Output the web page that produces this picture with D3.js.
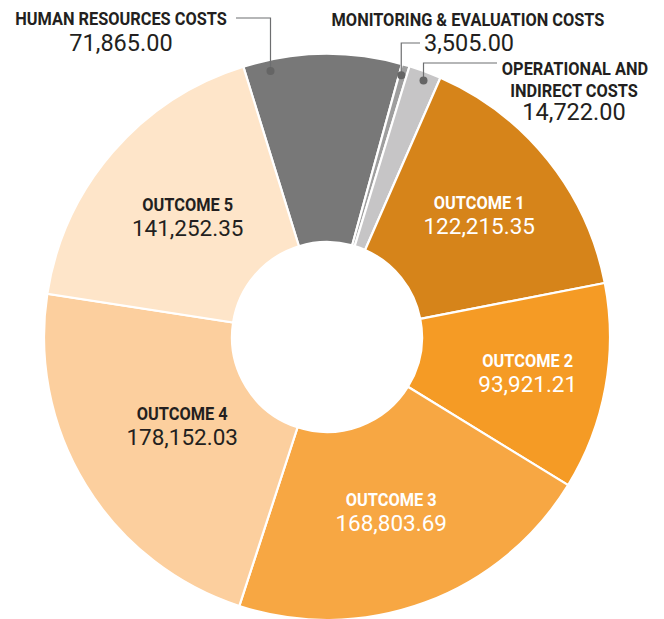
<!DOCTYPE html>
<html>
<head>
<meta charset="utf-8">
<script src="https://cdn.jsdelivr.net/npm/d3@7"></script>
<style>
  html, body { margin: 0; padding: 0; background: #ffffff; }
  svg { display: block; }
  .ttl { font-family: "Roboto", "Liberation Sans", sans-serif; font-weight: 700; }
  .val { font-family: "Roboto", "Liberation Sans", sans-serif; font-weight: 400; }
</style>
</head>
<body>
<svg id="chart" width="664" height="619"></svg>
<script>
// Budget allocation, clockwise from the Human Resources slice
const categories = [
  "HUMAN RESOURCES COSTS",
  "MONITORING & EVALUATION COSTS",
  "OPERATIONAL AND INDIRECT COSTS",
  "OUTCOME 1",
  "OUTCOME 2",
  "OUTCOME 3",
  "OUTCOME 4",
  "OUTCOME 5"
];
const amounts = [71865.00, 3505.00, 14722.00, 122215.35, 93921.21, 168803.69, 178152.03, 141252.35];
const colors = ["#787878", "#9e9e9e", "#c6c5c6", "#d6841a", "#f59b25", "#f7a743", "#fccf9e", "#fee5c9"];

const width = 664, height = 619;
const cx = 327, cy = 337;
const outerR = 283, innerR = 95;
const startDeg = -17.2;

// condensed look: horizontal squeeze applied to each text run
const SQUEEZE_TITLE = 0.86, SQUEEZE_VAL_IN = 1.0, SQUEEZE_VAL_OUT = 0.96;
const TITLE_SIZE = 19;

const svg = d3.select("#chart");
const g = svg.append("g").attr("transform", `translate(${cx},${cy})`);

const fmt = d3.format(",.2f");
const rad = d => d * Math.PI / 180;

function squeeze(sel, k) {
  sel.each(function () {
    const w = this.getComputedTextLength();
    d3.select(this).attr("textLength", w * k).attr("lengthAdjust", "spacingAndGlyphs");
  });
  return sel;
}

const pie = d3.pie()
  .value(d => d.value)
  .sort(null)
  .startAngle(rad(startDeg))
  .endAngle(rad(startDeg + 360));

const rows = categories.map((c, i) => ({ name: c, value: amounts[i], color: colors[i], idx: i }));
const arcs = pie(rows);

const arc = d3.arc().innerRadius(innerR).outerRadius(outerR);

g.selectAll("path.slice")
  .data(arcs)
  .join("path")
  .attr("class", "slice")
  .attr("d", arc)
  .attr("fill", d => d.data.color)
  .attr("stroke", "#ffffff")
  .attr("stroke-width", 2.2)
  .attr("stroke-linejoin", "miter");

// Labels inside the outcome slices
const insideRadius = { 3: 195, 4: 204, 5: 186, 6: 170, 7: 184 };
const insideText = { 3: "#ffffff", 4: "#ffffff", 5: "#ffffff", 6: "#231f20", 7: "#231f20" };

const inner = g.selectAll("g.inlab")
  .data(arcs.filter(d => d.data.idx >= 3))
  .join("g")
  .attr("class", "inlab")
  .attr("transform", d => {
    const r = insideRadius[d.data.idx];
    const c = d3.arc().innerRadius(r).outerRadius(r).centroid(d);
    return `translate(${c[0]},${c[1]})`;
  });

squeeze(inner.append("text")
  .attr("class", "ttl")
  .attr("text-anchor", "middle")
  .attr("y", -6)
  .attr("font-size", TITLE_SIZE)
  .attr("fill", d => insideText[d.data.idx])
  .text(d => d.data.name), SQUEEZE_TITLE);

squeeze(inner.append("text")
  .attr("class", "val")
  .attr("text-anchor", "middle")
  .attr("y", 19)
  .attr("font-size", 22.5)
  .attr("fill", d => insideText[d.data.idx])
  .text(d => fmt(d.data.value)), SQUEEZE_VAL_IN);

// Callouts for the three small cost slices
const dotAt = (d, frac, r) => {
  const a = d.startAngle + frac * (d.endAngle - d.startAngle);
  return [cx + r * Math.sin(a), cy - r * Math.cos(a)];
};

const ink = "#231f20", leader = "#6d6e70", dotColor = "#656565";

function callout(d, frac, r, pathStart, lines, valuePos) {
  const p = dotAt(d, frac, r);
  svg.append("path")
    .attr("d", `M${pathStart[0]},${pathStart[1]}H${p[0]}V${p[1]}`)
    .attr("fill", "none").attr("stroke", leader).attr("stroke-width", 1.2);
  svg.append("circle").attr("cx", p[0]).attr("cy", p[1]).attr("r", 4).attr("fill", dotColor);
  lines.forEach(l => {
    squeeze(svg.append("text").attr("class", "ttl").attr("x", l.x).attr("y", l.y)
      .attr("text-anchor", "middle").attr("font-size", TITLE_SIZE).attr("fill", ink).text(l.t), SQUEEZE_TITLE);
  });
  squeeze(svg.append("text").attr("class", "val").attr("x", valuePos[0]).attr("y", valuePos[1])
    .attr("text-anchor", "middle").attr("font-size", 24.5).attr("fill", ink).text(fmt(d.data.value)), SQUEEZE_VAL_OUT);
}

// Human resources
callout(arcs[0], 0.16, 272, [236, 18],
  [{ t: arcs[0].data.name, x: 121, y: 25 }], [121, 51]);

// Monitoring & evaluation
callout(arcs[1], 0.3, 272, [420, 43],
  [{ t: arcs[1].data.name, x: 468, y: 26 }], [469, 51]);

// Operational and indirect
{
  const words = arcs[2].data.name.split(" ");
  callout(arcs[2], 0.55, 274, [497, 63],
    [{ t: words.slice(0, 2).join(" "), x: 575, y: 75 },
     { t: words.slice(2).join(" "), x: 574, y: 97 }], [574, 120]);
}
</script>
</body>
</html>
